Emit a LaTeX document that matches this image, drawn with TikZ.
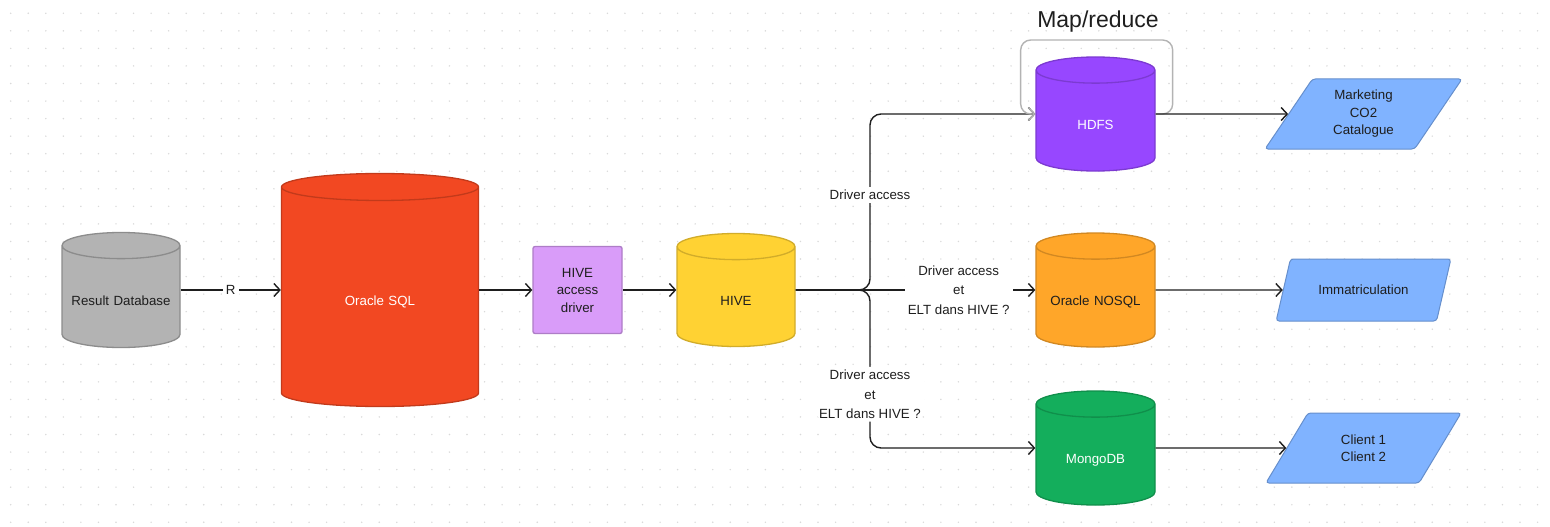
\documentclass[tikz,border=0pt]{standalone}
\usepackage{fontspec}
\setmainfont{Liberation Sans}
\usepackage{tikz}
\usetikzlibrary{shapes.geometric,arrows.meta,positioning}

\definecolor{ink}{HTML}{1E1E1E}
\definecolor{dotc}{HTML}{D9D9D9}
\definecolor{dbgray}{HTML}{B3B3B3}
\definecolor{oracle}{HTML}{F24822}
\definecolor{lilac}{HTML}{D99CF9}
\definecolor{hiveyel}{HTML}{FFD233}
\definecolor{hdfspur}{HTML}{9747FF}
\definecolor{nosqlor}{HTML}{FFA629}
\definecolor{mongogr}{HTML}{14AE5C}
\definecolor{outblue}{HTML}{80B3FF}
\definecolor{loopgray}{HTML}{B3B3B3}

\begin{document}
\begin{tikzpicture}[x=1pt,y=-1pt,
 every node/.style={font=\fontsize{13.3}{17.5}\selectfont,text=ink},
 db/.style={cylinder,shape border rotate=90,aspect=0.245,anchor=shape center,draw,line width=1.3pt,text width=100pt,align=center,text height=13.4pt,text depth=0pt},
 box/.style={draw,line width=1.3pt,rounded corners=2pt,align=center},
 outbox/.style={trapezium,trapezium left angle=60,trapezium right angle=120,trapezium stretches=true,fill=outblue,draw=outblue!80!black,line width=1pt,rounded corners=3pt,align=center,minimum width=197pt,minimum height=70pt},
 link/.style={draw=ink,line width=1.4pt,-{Straight Barb[length=6pt,width=13pt]}},
 lbl/.style={fill=white,inner sep=3pt,align=center,font=\fontsize{13.3}{19.5}\selectfont}]

 \useasboundingbox (0,0) rectangle (1550,527);
 \fill[white] (0,0) rectangle (1550,527);
 \foreach \i in {0,...,88}
  \foreach \j in {0,...,29}
   \fill[dotc] (10.7+17.55*\i,13.3+17.55*\j) circle (0.8);

 \node[db,fill=dbgray,draw=dbgray!78!black,minimum width=118pt,minimum height=115pt] (result) at (121,290) {Result Database};
 \node[db,aspect=0.253,fill=oracle,draw=oracle!80!black,text=white,minimum width=197pt,minimum height=233pt] (oracle) at (380,290) {Oracle SQL};
 \node[box,fill=lilac,draw=lilac!80!black,minimum width=89pt,minimum height=87pt] (driver) at (577.5,290) {HIVE\\access\\driver};
 \node[db,fill=hiveyel,draw=hiveyel!82!black,minimum width=118pt,minimum height=113pt] (hive) at (736,290) {HIVE};
 \node[db,fill=hdfspur,draw=hdfspur!82!black,text=white,minimum width=119pt,minimum height=114pt] (hdfs) at (1095.5,114) {HDFS};
 \node[db,fill=nosqlor,draw=nosqlor!82!black,minimum width=119pt,minimum height=114pt] (nosql) at (1095.5,290) {Oracle NOSQL};
 \node[db,fill=mongogr,draw=mongogr!82!black,text=white,minimum width=119pt,minimum height=114pt] (mongo) at (1095.5,448) {MongoDB};
 \node[outbox] (mkt) at (1363.5,114) {Marketing\\CO2\\Catalogue};
 \node[outbox,minimum width=175pt,minimum height=62pt] (immat) at (1363.5,290) {Immatriculation};
 \node[outbox] (client) at (1363.5,448) {Client 1\\Client 2};
 \node[font=\fontsize{23}{26}\selectfont] (mapred) at (1098,22) {Map/reduce};

 \coordinate (fork) at (870,290);
 \draw[link] (result.east |- result.shape center) -- node[lbl]{R} (oracle.west |- oracle.shape center);
 \draw[link] (oracle.east |- oracle.shape center) -- (driver.west);
 \draw[link] (driver.east) -- (hive.west |- hive.shape center);
 \draw[link,rounded corners=11pt] (hive.east |- hive.shape center) -- (fork) -- node[lbl,pos=0.54]{Driver access} (fork |- hdfs.shape center) -- (hdfs.west |- hdfs.shape center);
 \draw[link] (hive.east |- hive.shape center) -- node[lbl,pos=0.68]{Driver access\\et\\ELT dans HIVE ?} (nosql.west |- nosql.shape center);
 \draw[link,rounded corners=11pt] (hive.east |- hive.shape center) -- (fork) -- node[lbl,pos=0.66]{Driver access\\et\\ELT dans HIVE ?} (fork |- mongo.shape center) -- (mongo.west |- mongo.shape center);
 \draw[link,draw=loopgray,rounded corners=10pt] (hdfs.east |- hdfs.shape center) -- ++(17,0) -- ++(0,-74) -- ++(-152,0) -- ++(0,74) -- (hdfs.west |- hdfs.shape center);
 \draw[link] (hdfs.east |- hdfs.shape center) -- (mkt.west);
 \draw[link] (nosql.east |- nosql.shape center) -- (immat.west);
 \draw[link] (mongo.east |- mongo.shape center) -- (client.west);
\end{tikzpicture}
\end{document}
